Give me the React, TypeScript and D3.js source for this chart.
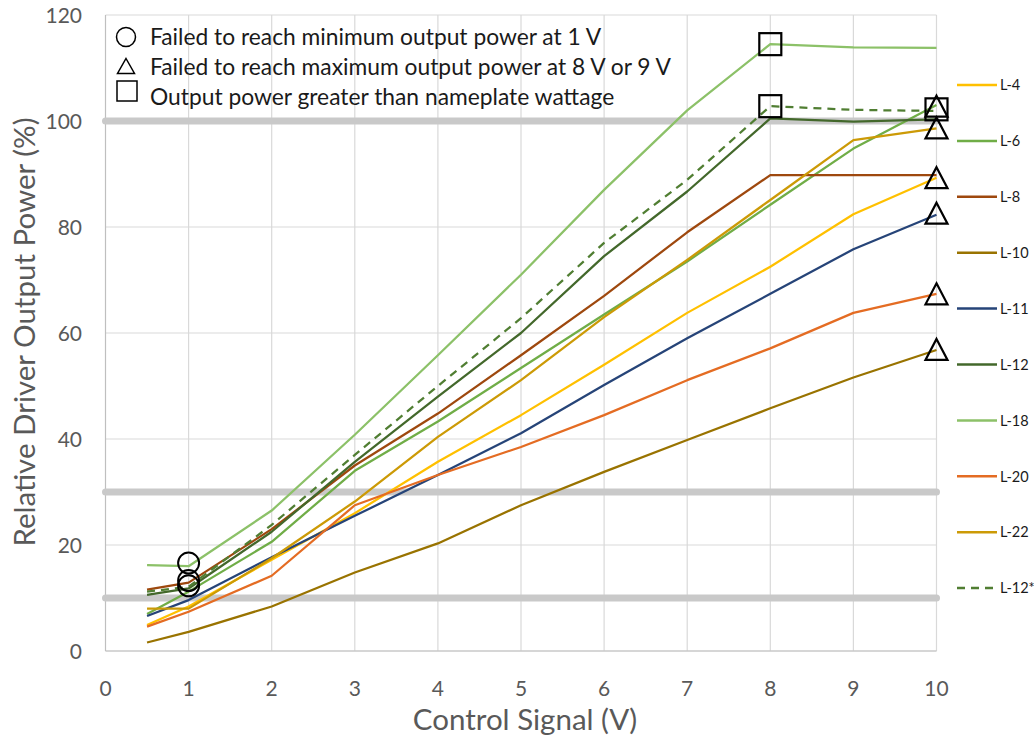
import React from "react";
import * as d3 from "d3";

const xValues = [0.5, 1, 2, 3, 4, 5, 6, 7, 8, 9, 10];
const seriesNames = ["L-4", "L-6", "L-8", "L-10", "L-11", "L-12", "L-18", "L-20", "L-22", "L-12*"];
const seriesColors = ["#FFC000", "#70AD47", "#9E480E", "#997300", "#264478", "#43682B", "#8CC168", "#E46C23", "#CC9A06", "#507E32"];
const seriesDashed = [false, false, false, false, false, false, false, false, false, true];

const L4 = [4.9, 8.4, 17.2, 26.0, 35.7, 44.5, 54.0, 63.8, 72.5, 82.4, 89.3];
const L6 = [7.0, 11.2, 20.6, 34.0, 43.3, 53.4, 63.5, 73.5, 84.2, 94.8, 103.0];
const L8 = [11.6, 12.9, 23.0, 35.0, 44.8, 55.8, 67.0, 79.0, 89.8, 89.8, 89.8];
const L10 = [1.6, 3.6, 8.4, 14.8, 20.3, 27.5, 33.8, 39.8, 45.8, 51.6, 56.8];
const L11 = [6.6, 9.6, 17.7, 25.5, 33.2, 41.1, 50.2, 59.0, 67.4, 75.8, 82.3];
const L12 = [10.6, 11.8, 22.5, 35.7, 48.0, 60.0, 74.5, 86.7, 100.5, 99.9, 100.3];
const L18 = [16.2, 16.0, 26.5, 40.8, 55.8, 71.0, 87.0, 102.0, 114.5, 113.9, 113.8];
const L20 = [4.6, 7.4, 14.2, 27.5, 33.2, 38.5, 44.5, 51.1, 57.1, 63.8, 67.4];
const L22 = [8.0, 8.0, 17.5, 28.2, 40.4, 51.1, 63.0, 73.8, 85.1, 96.4, 98.6];
const L12s = [11.2, 12.1, 23.8, 37.0, 50.0, 62.8, 77.0, 88.9, 102.8, 102.1, 101.9];
const seriesValues = [L4, L6, L8, L10, L11, L12, L18, L20, L22, L12s];

const circleMarkers = [
  { x: 1, y: 16.6 },
  { x: 1, y: 13.3 },
  { x: 1, y: 12.3 },
];
const triangleMarkers = [
  { x: 10, y: 102.8 },
  { x: 10, y: 98.7 },
  { x: 10, y: 89.3 },
  { x: 10, y: 82.6 },
  { x: 10, y: 67.4 },
  { x: 10, y: 56.9 },
];
const squareMarkers = [
  { x: 8, y: 114.5 },
  { x: 8, y: 102.8 },
  { x: 10, y: 102.2 },
];

const referenceLines = [100, 30, 10];
const xTicks = [0, 1, 2, 3, 4, 5, 6, 7, 8, 9, 10];
const yTicks = [0, 20, 40, 60, 80, 100, 120];
const legendNotes = [
  "Failed to reach minimum output power at 1 V",
  "Failed to reach maximum output power at 8 V or 9 V",
  "Output power greater than nameplate wattage",
];

const FONT = "Lato, 'Open Sans', sans-serif";

export default function App() {
  const x = d3.scaleLinear().domain([0, 10]).range([105.5, 936.5]);
  const y = d3.scaleLinear().domain([0, 120]).range([651, 15]);
  const line = d3
    .line<number>()
    .x((_, i) => x(xValues[i]))
    .y((d) => y(d));

  const triPath = (cx: number, cy: number, w: number, h: number) =>
    `M${cx},${cy - h / 2}L${cx + w / 2},${cy + h / 2}L${cx - w / 2},${cy + h / 2}Z`;

  return (
    <svg
      width={1034}
      height={740}
      style={{ position: "absolute", left: 0, top: 0, background: "#fff" }}
      fontFamily={FONT}
    >
      <rect width={1034} height={740} fill="#fff" />
      {/* gridlines */}
      {yTicks.map((t) => (
        <line key={"gy" + t} x1={x(0)} x2={x(10)} y1={y(t)} y2={y(t)} stroke="#d9d9d9" strokeWidth={1.2} />
      ))}
      {xTicks.slice(1).map((t) => (
        <line key={"gx" + t} x1={x(t)} x2={x(t)} y1={y(0)} y2={y(120)} stroke="#d9d9d9" strokeWidth={1.2} />
      ))}
      {/* axes */}
      <line x1={x(0)} x2={x(0)} y1={y(0)} y2={y(120)} stroke="#bfbfbf" strokeWidth={1.2} />
      <line x1={x(0)} x2={x(10)} y1={y(0)} y2={y(0)} stroke="#bfbfbf" strokeWidth={1.2} />
      {/* reference bands */}
      {referenceLines.map((r) => (
        <line
          key={"ref" + r}
          x1={x(0)}
          x2={x(10)}
          y1={y(r)}
          y2={y(r)}
          stroke="#c9c9c9"
          strokeWidth={7}
          strokeLinecap="round"
        />
      ))}
      {/* tick labels */}
      {yTicks.map((t) => (
        <text key={"ty" + t} x={82} y={y(t)} dy="0.36em" textAnchor="end" fontSize={21} fill="#595959">
          {t}
        </text>
      ))}
      {xTicks.map((t) => (
        <text key={"tx" + t} x={x(t)} y={696} textAnchor="middle" fontSize={21} fill="#595959">
          {t}
        </text>
      ))}
      {/* axis titles */}
      <text x={525} y={730} textAnchor="middle" fontSize={29.5} fill="#595959">
        Control Signal (V)
      </text>
      <text
        transform={`translate(35,${332}) rotate(-90)`}
        textAnchor="middle"
        fontSize={29.5}
        fill="#595959"
      >
        Relative Driver Output Power (%)
      </text>
      {/* series */}
      {seriesValues.map((vals, i) => (
        <path
          key={"s" + i}
          d={line(vals) || ""}
          fill="none"
          stroke={seriesColors[i]}
          strokeWidth={2.25}
          strokeDasharray={seriesDashed[i] ? "8,6" : undefined}
          strokeLinejoin="round"
        />
      ))}
      {/* markers */}
      {circleMarkers.map((m, i) => (
        <circle key={"c" + i} cx={x(m.x)} cy={y(m.y)} r={10.5} fill="none" stroke="#000" strokeWidth={2} />
      ))}
      {triangleMarkers.map((m, i) => (
        <path key={"t" + i} d={triPath(x(m.x), y(m.y), 22, 21)} fill="none" stroke="#000" strokeWidth={2.2} />
      ))}
      {squareMarkers.map((m, i) => (
        <rect
          key={"q" + i}
          x={x(m.x) - 11}
          y={y(m.y) - 11}
          width={22}
          height={22}
          fill="none"
          stroke="#000"
          strokeWidth={2.2}
        />
      ))}
      {/* note legend */}
      <circle cx={126} cy={37} r={9.5} fill="none" stroke="#000" strokeWidth={1.5} />
      <path d={triPath(126, 66, 17, 15)} fill="none" stroke="#000" strokeWidth={1.5} />
      <rect x={117} y={81} width={20} height={20} fill="none" stroke="#000" strokeWidth={1.5} />
      {legendNotes.map((t, i) => (
        <text key={"n" + i} x={150} y={45 + i * 30} fontSize={22.8} fill="#1a1a1a">
          {t}
        </text>
      ))}
      {/* series legend */}
      {seriesNames.map((n, i) => {
        const ly = 85 + i * 55.9;
        return (
          <g key={"lg" + i}>
            <line
              x1={957}
              x2={997}
              y1={ly}
              y2={ly}
              stroke={seriesColors[i]}
              strokeWidth={2.5}
              strokeDasharray={seriesDashed[i] ? "8,6" : undefined}
            />
            <text x={1000} y={ly} dy="0.36em" fontSize={14.5} fill="#1a1a1a">
              {n}
            </text>
          </g>
        );
      })}
    </svg>
  );
}
